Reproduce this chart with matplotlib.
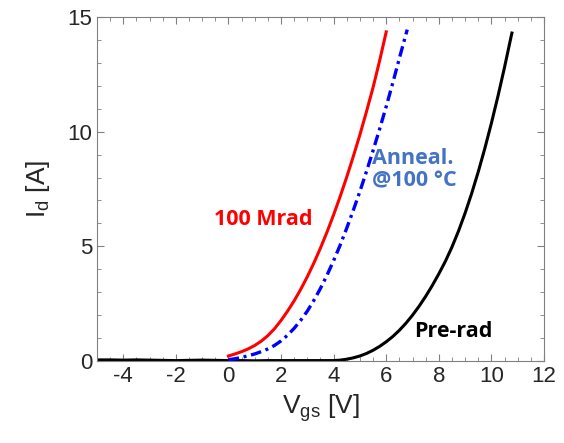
import numpy as np
import matplotlib.pyplot as plt
from matplotlib.ticker import MultipleLocator

plt.rcParams['font.family'] = ['Liberation Sans', 'DejaVu Sans']
plt.rcParams['mathtext.fontset'] = 'custom'
plt.rcParams['mathtext.rm'] = 'Liberation Sans'
plt.rcParams['axes.unicode_minus'] = False

# Id-Vgs curves
vgs_pre = [-5, -4.5, -4, -3.5, -3, -2.5, -2, -1.5, -1, -0.5, 0, 0.5, 1, 1.5, 2, 2.5, 3, 3.5,
           4, 4.25, 4.5, 4.75, 5, 5.25, 5.5, 5.75, 6, 6.25, 6.5, 6.75, 7, 7.25, 7.5, 7.75,
           8, 8.25, 8.5, 8.75, 9, 9.25, 9.5, 9.75, 10, 10.25, 10.5, 10.75, 10.78]
id_pre = [0.05, 0.05, 0.04, 0.05, 0.04, 0.03, 0.02, 0.03, 0.04, 0.03, 0.02, 0.02, 0.01, 0.02,
          0.02, 0.02, 0.02, 0.02, 0.02, 0.04, 0.08, 0.14, 0.22, 0.33, 0.47, 0.64, 0.84, 1.07,
          1.34, 1.65, 2.0, 2.39, 2.82, 3.29, 3.8, 4.35, 4.97, 5.67, 6.45, 7.31, 8.25, 9.27,
          10.37, 11.55, 12.81, 14.15, 14.3]

vgs_rad = [0, 0.25, 0.5, 0.75, 1, 1.25, 1.5, 1.75, 2, 2.25, 2.5, 2.75, 3, 3.25, 3.5, 3.75,
           4, 4.25, 4.5, 4.75, 5, 5.25, 5.5, 5.75, 6]
id_rad = [0.22, 0.31, 0.41, 0.53, 0.68, 0.87, 1.11, 1.41, 1.77, 2.18, 2.63, 3.13, 3.68, 4.28,
          4.93, 5.63, 6.38, 7.18, 8.03, 8.93, 9.87, 10.88, 11.93, 13.1, 14.35]

vgs_ann = [0, 0.25, 0.5, 0.75, 1, 1.25, 1.5, 1.75, 2, 2.25, 2.5, 2.75, 3, 3.25, 3.5, 3.75,
           4, 4.25, 4.5, 4.75, 5, 5.25, 5.5, 5.75, 6, 6.25, 6.5, 6.75, 6.8]
id_ann = [0.06, 0.1, 0.16, 0.23, 0.31, 0.41, 0.53, 0.68, 0.88, 1.13, 1.43, 1.78, 2.18, 2.65,
          3.17, 3.75, 4.38, 5.06, 5.8, 6.58, 7.4, 8.27, 9.18, 10.12, 11.1, 12.13, 13.2, 14.25,
          14.45]

fig = plt.figure(figsize=(5.64, 4.43), dpi=100)
ax = fig.add_axes([0.172, 0.185, 0.7925, 0.7766])

ax.plot(vgs_pre, id_pre, color='black', lw=2.2)
ax.plot(vgs_rad, id_rad, color='#ff0000', lw=2.2)
ax.plot(vgs_ann, id_ann, color='#0000ff', lw=2.4, ls=(0, (3.2, 1.4, 0.9, 1.4)))

# labels on the curves
ax.text(1.34, 6.15, '100 Mrad', color='#ff0000', fontsize=15.5, fontweight='bold',
        family='Open Sans', ha='center', va='center')
ax.text(5.45, 8.35, 'Anneal.\n@100 °C', color='#4472c4', fontsize=15.5, fontweight='bold',
        family='Open Sans', ha='left', va='center', linespacing=1.05)
ax.text(7.05, 1.3, 'Pre-rad', color='black', fontsize=15.5, fontweight='bold',
        family='Open Sans', ha='left', va='center')

ax.set_xlim(-5, 12)
ax.set_ylim(0, 15)
ax.xaxis.set_minor_locator(MultipleLocator(0.5))
ax.yaxis.set_major_locator(MultipleLocator(5))
ax.yaxis.set_minor_locator(MultipleLocator(1))
ax.set_xticks(np.arange(-4, 13, 2))
ax.tick_params(which='both', direction='in', top=True, right=True, colors='#808080',
               labelcolor='#262626', labelsize=16)
ax.tick_params(which='major', length=5)
ax.tick_params(which='minor', length=3)
for s in ax.spines.values():
    s.set_color('#808080')

ax.set_xlabel(r'$\mathrm{V_{gs}}$ [V]', fontsize=19, color='#262626', labelpad=4)
ax.set_ylabel(r'$\mathrm{I_{d}}$ [A]', fontsize=19, color='#262626', labelpad=11)

plt.savefig('out.png', dpi=100)
